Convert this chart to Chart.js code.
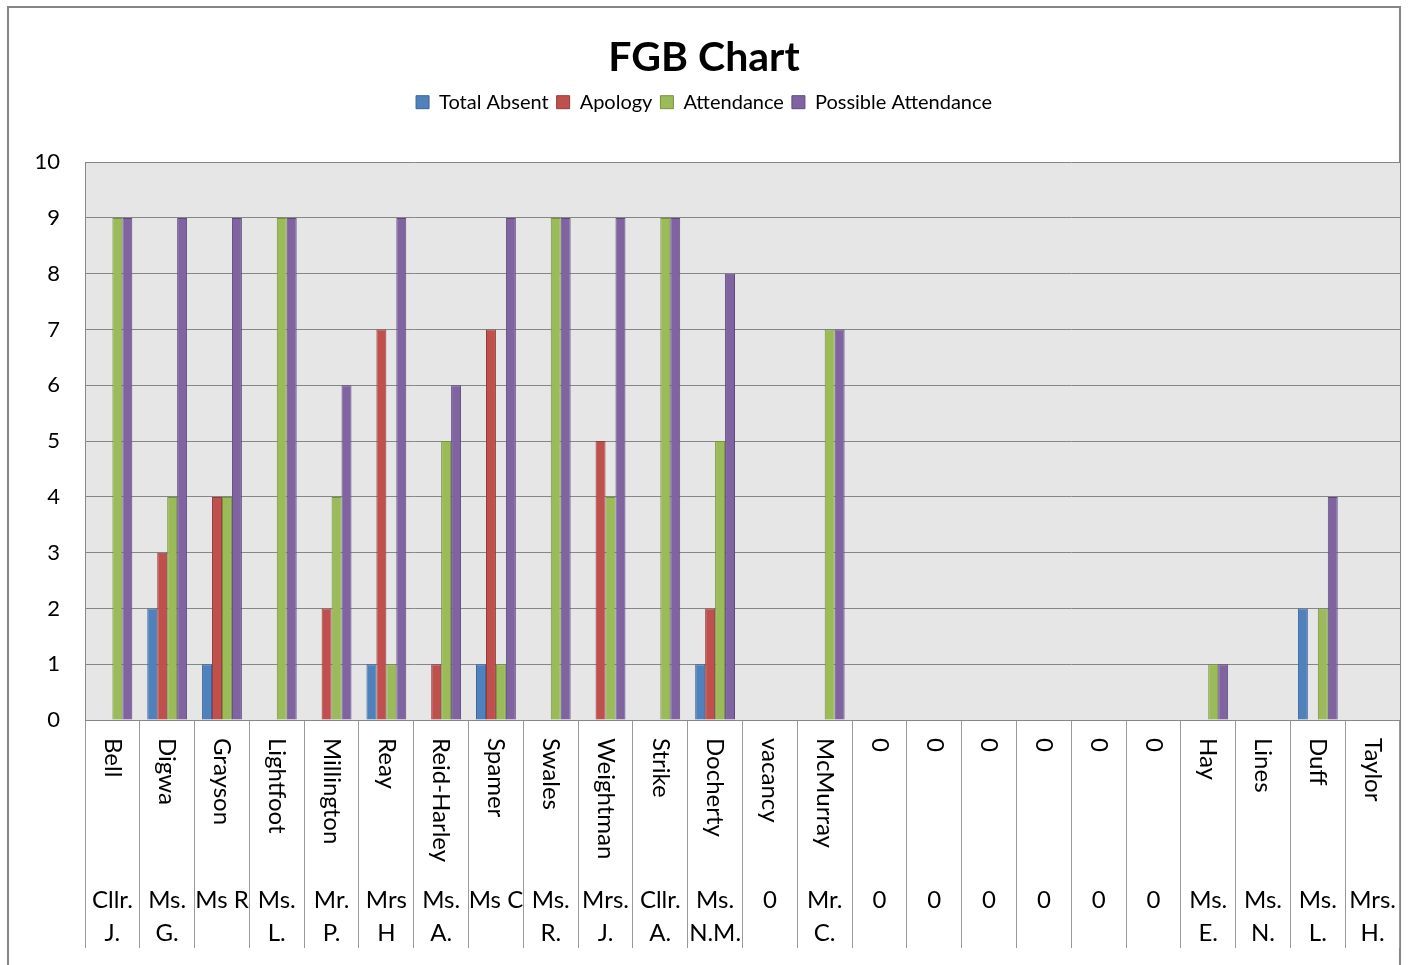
<!DOCTYPE html>
<html>
<head>
<meta charset="utf-8">
<script src="https://cdn.jsdelivr.net/npm/chart.js@4"></script>
<style>
  html, body { margin: 0; padding: 0; background: #fff; }
  #wrap { width: 1408px; height: 965px; }
</style>
</head>
<body>
<div id="wrap"><canvas id="fgbCanvas"></canvas></div>
<script>
// categorias (sobrenome + título/inicial)
const surnames = ['Bell', 'Digwa', 'Grayson', 'Lightfoot', 'Millington', 'Reay', 'Reid-Harley', 'Spamer',
    'Swales', 'Weightman', 'Strike', 'Docherty', 'vacancy', 'McMurray', '0', '0', '0', '0', '0', '0',
    'Hay', 'Lines', 'Duff', 'Taylor'];
const initials = [['Cllr.', 'J.'], ['Ms.', 'G.'], ['Ms R'], ['Ms.', 'L.'], ['Mr.', 'P.'], ['Mrs', 'H'],
    ['Ms.', 'A.'], ['Ms C'], ['Ms.', 'R.'], ['Mrs.', 'J.'], ['Cllr.', 'A.'], ['Ms.', 'N.M.'], ['0'],
    ['Mr.', 'C.'], ['0'], ['0'], ['0'], ['0'], ['0'], ['0'], ['Ms.', 'E.'], ['Ms.', 'N.'], ['Ms.', 'L.'], ['Mrs.', 'H.']];

// séries
const totalAbsent = [0, 2, 1, 0, 0, 1, 0, 1, 0, 0, 0, 1, 0, 0, 0, 0, 0, 0, 0, 0, 0, 0, 2, 0];
const apology = [0, 3, 4, 0, 2, 7, 1, 7, 0, 5, 0, 2, 0, 0, 0, 0, 0, 0, 0, 0, 0, 0, 0, 0];
const attendance = [9, 4, 4, 9, 4, 1, 5, 1, 9, 4, 9, 5, 0, 7, 0, 0, 0, 0, 0, 0, 1, 0, 2, 0];
const possibleAttendance = [9, 9, 9, 9, 6, 9, 6, 9, 9, 9, 9, 8, 0, 7, 0, 0, 0, 0, 0, 0, 1, 0, 4, 0];

const yTicks = [0, 1, 2, 3, 4, 5, 6, 7, 8, 9, 10];

const fonte = 'Lato, "Open Sans", sans-serif';
const cinza = '#868686';

// fundo, borda externa e área do gráfico
const fundoPlugin = {
    id: 'fundo',
    beforeDraw(chart) {
        const ctx = chart.ctx;
        const a = chart.chartArea;
        ctx.save();
        ctx.fillStyle = '#ffffff';
        ctx.fillRect(0, 0, chart.width, chart.height);
        ctx.strokeStyle = cinza;
        ctx.lineWidth = 2;
        ctx.strokeRect(8, 7, 1392, 1000);
        ctx.fillStyle = '#E6E6E6';
        ctx.fillRect(a.left, a.top, a.right - a.left, a.bottom - a.top);
        ctx.restore();
    }
};

// espaço extra abaixo da legenda
const margemLegenda = {
    id: 'margemLegenda',
    beforeInit(chart) {
        const fitOriginal = chart.legend.fit;
        chart.legend.fit = function () {
            fitOriginal.bind(chart.legend)();
            this.height += 40;
        };
    }
};

// rótulos em dois níveis no eixo x
const rotulosPlugin = {
    id: 'rotulos',
    afterDraw(chart) {
        const ctx = chart.ctx;
        const xScale = chart.scales.x;
        const base = chart.chartArea.bottom;
        ctx.save();
        ctx.fillStyle = '#000';
        ctx.font = '24px ' + fonte;
        surnames.forEach((nome, i) => {
            const x = xScale.getPixelForValue(i);
            ctx.save();
            ctx.translate(x, base + 18);
            ctx.rotate(Math.PI / 2);
            ctx.textAlign = 'left';
            ctx.textBaseline = 'middle';
            ctx.fillText(nome, 0, 0);
            ctx.restore();

            ctx.textAlign = 'center';
            ctx.textBaseline = 'middle';
            initials[i].forEach((linha, j) => {
                ctx.fillText(linha, x, base + 180 + j * 33);
            });
        });
        ctx.restore();
    }
};

const dados = {
    labels: surnames,
    datasets: [
        { label: 'Total Absent', data: totalAbsent, backgroundColor: '#4F81BD', borderColor: '#3A6596' },
        { label: 'Apology', data: apology, backgroundColor: '#C0504D', borderColor: '#943B39' },
        { label: 'Attendance', data: attendance, backgroundColor: '#9BBB59', borderColor: '#76923C' },
        { label: 'Possible Attendance', data: possibleAttendance, backgroundColor: '#8064A2', borderColor: '#5F4A7B' }
    ]
};
dados.datasets.forEach(d => {
    d.borderWidth = 1;
    d.barPercentage = 1;
    d.categoryPercentage = 0.727;
});

const config = {
    type: 'bar',
    data: dados,
    plugins: [fundoPlugin, margemLegenda, rotulosPlugin],
    options: {
        responsive: true,
        maintainAspectRatio: false,
        animation: false,
        layout: { padding: { left: 8, right: 8, top: 0, bottom: 15 } },
        plugins: {
            title: {
                display: true,
                text: 'FGB Chart',
                color: '#000',
                font: { family: fonte, size: 41, weight: 'bold' },
                padding: { top: 33, bottom: 2 }
            },
            legend: {
                position: 'top',
                labels: {
                    color: '#000',
                    font: { family: fonte, size: 20 },
                    boxWidth: 13,
                    boxHeight: 13,
                    padding: 8
                }
            },
            tooltip: { enabled: false }
        },
        scales: {
            x: {
                offset: true,
                grid: {
                    display: true,
                    offset: true,
                    drawOnChartArea: false,
                    drawTicks: true,
                    tickLength: 228,
                    color: '#9a9a9a',
                    lineWidth: 1
                },
                border: { display: true, color: cinza, width: 1 },
                ticks: { display: true, callback: () => '', padding: 0 },
                afterFit(scale) { scale.height = 230; }
            },
            y: {
                min: 0,
                max: 10,
                afterBuildTicks(scale) { scale.ticks = yTicks.map(v => ({ value: v })); },
                grid: { color: cinza, lineWidth: 1, drawTicks: false },
                border: { display: true, color: cinza, width: 1 },
                ticks: {
                    color: '#000',
                    font: { family: fonte, size: 22 },
                    padding: 25
                },
                afterFit(scale) { scale.width = 77; }
            }
        }
    }
};

new Chart(document.getElementById('fgbCanvas'), config);
</script>
</body>
</html>
